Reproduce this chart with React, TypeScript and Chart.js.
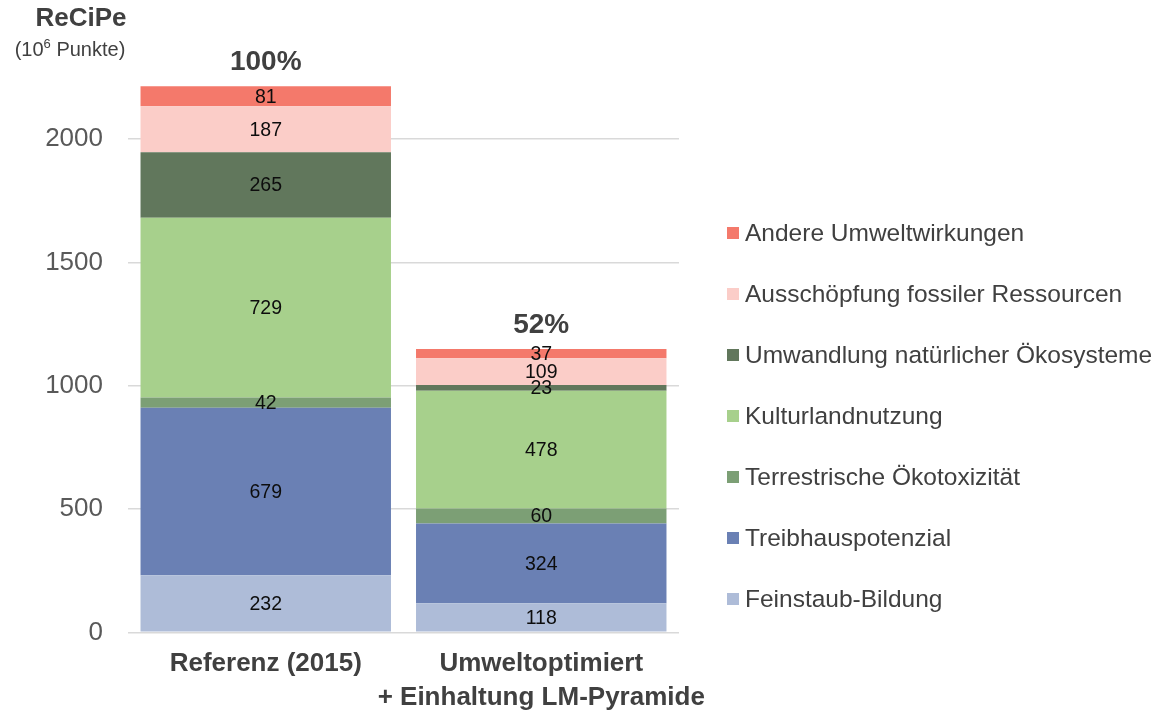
import React, { useEffect, useRef } from "react";
import { Chart, registerables } from "chart.js";
Chart.register(...registerables);

const categories = [["Referenz (2015)"], ["Umweltoptimiert", "+ Einhaltung LM-Pyramide"]];
const seriesNames = [
  "Feinstaub-Bildung",
  "Treibhauspotenzial",
  "Terrestrische Ökotoxizität",
  "Kulturlandnutzung",
  "Umwandlung natürlicher Ökosysteme",
  "Ausschöpfung fossiler Ressourcen",
  "Andere Umweltwirkungen",
];
const feinstaub = [232, 118];
const treibhaus = [679, 324];
const terrestrisch = [42, 60];
const kultur = [729, 478];
const umwandlung = [265, 23];
const fossil = [187, 109];
const andere = [81, 37];
const totalLabels = ["100%", "52%"];
const yTicks = [0, 500, 1000, 1500, 2000];
const seriesColors = ["#AEBCD8", "#6A80B4", "#7C9F75", "#A7D08C", "#61775C", "#FBCDC8", "#F4796B"];

const FONT = "'Liberation Sans', Arial, sans-serif";

const overlayPlugin = {
  id: "overlay",
  afterDatasetsDraw(chart: any) {
    const ctx = chart.ctx;
    ctx.save();
    // value labels
    ctx.font = `19.5px ${FONT}`;
    ctx.fillStyle = "#0D0D0D";
    ctx.textAlign = "center";
    ctx.textBaseline = "middle";
    chart.data.datasets.forEach((ds: any, di: number) => {
      const meta = chart.getDatasetMeta(di);
      meta.data.forEach((el: any, i: number) => {
        const cy = (el.y + el.base) / 2;
        ctx.fillText(String(ds.data[i]), el.x, cy + 1);
      });
    });
    // totals
    const last = chart.getDatasetMeta(chart.data.datasets.length - 1);
    ctx.font = `bold 28px ${FONT}`;
    ctx.fillStyle = "#404040";
    last.data.forEach((el: any, i: number) => {
      ctx.fillText(totalLabels[i], el.x, el.y - 24);
    });
    // axis title
    ctx.font = `bold 26px ${FONT}`;
    ctx.fillText("ReCiPe", 81, 19);
    const p1 = "(10";
    const p3 = " Punkte)";
    ctx.textAlign = "left";
    ctx.font = `20px ${FONT}`;
    const w1 = ctx.measureText(p1).width;
    const w3 = ctx.measureText(p3).width;
    ctx.font = `13px ${FONT}`;
    const w2 = ctx.measureText("6").width;
    const total = w1 + w2 + w3;
    const x0 = 70 - total / 2;
    ctx.font = `20px ${FONT}`;
    ctx.fillText(p1, x0, 50);
    ctx.font = `13px ${FONT}`;
    ctx.fillText("6", x0 + w1, 44);
    ctx.font = `20px ${FONT}`;
    ctx.fillText(p3, x0 + w1 + w2, 50);
    // legend
    ctx.font = `24.5px ${FONT}`;
    const n = chart.data.datasets.length;
    for (let k = 0; k < n; k++) {
      const ds = chart.data.datasets[n - 1 - k];
      const y = 233 + k * 61;
      ctx.fillStyle = ds.backgroundColor;
      ctx.fillRect(727, y - 6, 12, 12);
      ctx.fillStyle = "#404040";
      ctx.textAlign = "left";
      ctx.fillText(ds.label, 745, y + 1);
    }
    ctx.restore();
  },
};

export default function App() {
  const ref = useRef<HTMLCanvasElement>(null);
  useEffect(() => {
    const values = [feinstaub, treibhaus, terrestrisch, kultur, umwandlung, fossil, andere];
    const chart = new Chart(ref.current!, {
      type: "bar",
      data: {
        labels: categories as any,
        datasets: values.map((v, i) => ({
          label: seriesNames[i],
          data: v,
          backgroundColor: seriesColors[i],
          borderWidth: 0,
          categoryPercentage: 1,
          barPercentage: 250 / 275,
        })),
      },
      options: {
        animation: false,
        responsive: true,
        maintainAspectRatio: false,
        layout: { padding: { top: 40, right: 481, bottom: -16, left: 0 } },
        plugins: { legend: { display: false }, tooltip: { enabled: false } },
        scales: {
          x: {
            stacked: true,
            grid: { display: false, drawTicks: false },
            border: { display: false },
            ticks: {
              color: "#404040",
              padding: 14,
              font: { family: FONT, size: 26, weight: "bold", lineHeight: 1.32 },
              maxRotation: 0,
              autoSkip: false,
            },
          },
          y: {
            stacked: true,
            min: 0,
            max: 2400,
            afterBuildTicks: (scale: any) => {
              scale.ticks = yTicks.map((v) => ({ value: v }));
            },
            afterFit: (scale: any) => {
              scale.width = 128;
            },
            grid: { color: "#D9D9D9", lineWidth: 1.5, drawTicks: false },
            border: { display: false },
            ticks: {
              color: "#595959",
              padding: 25,
              font: { family: FONT, size: 26 },
              callback: (v: any) => String(v),
            },
          },
        },
      },
      plugins: [overlayPlugin],
    });
    return () => chart.destroy();
  }, []);
  return (
    <div style={{ position: "fixed", left: 0, top: 0, width: 1160, height: 713, background: "#fff" }}>
      <canvas ref={ref} />
    </div>
  );
}
